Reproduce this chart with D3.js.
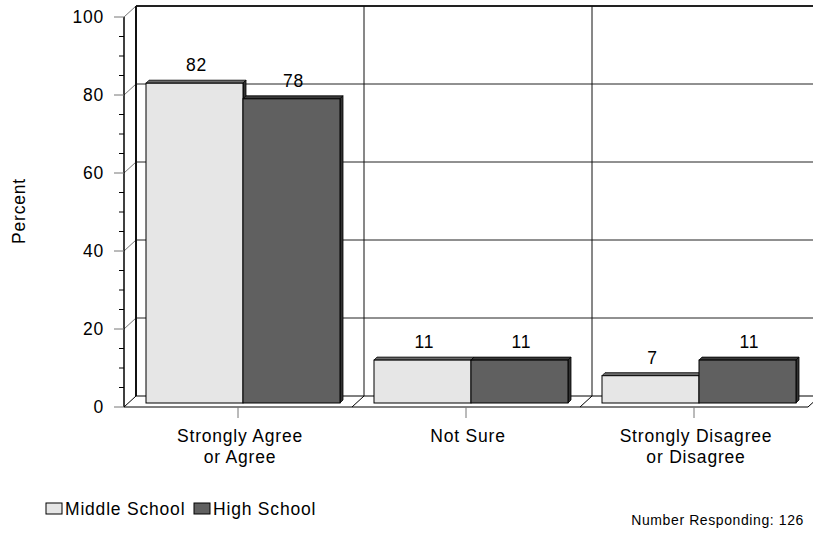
<!DOCTYPE html>
<html><head><meta charset="utf-8">
<script src="https://cdn.jsdelivr.net/npm/d3@7"></script>
<style>
html,body{margin:0;padding:0;background:#fff;}
svg{display:block;}
text{font-family:"Liberation Sans",Arial,sans-serif;fill:#000;}
</style></head>
<body>
<svg id="chart" width="813" height="533"></svg>
<script>
const categories = [["Strongly Agree","or Agree"],["Not Sure"],["Strongly Disagree","or Disagree"]];
const seriesNames = ["Middle School","High School"];
const middleSchool = [82, 11, 7];
const highSchool = [78, 11, 11];
const yTicks = [0,20,40,60,80,100];
const minorTicks = d3.range(0,101,5);
const note = "Number Responding: 126";
const yTitle = "Percent";

const colors = {"Middle School":"#e6e6e6","High School":"#606060"};
const topColors = {"Middle School":"#6a6a6a","High School":"#3a3a3a"};

const svg = d3.select("#chart");
const DX = 12, DY = -11;   // wall depth
const BX = 5, BY = -4;     // bar plane offset
const BD = 3;              // bar depth

const y = d3.scaleLinear().domain([0,100]).range([407,17]);
const catKeys = categories.map((c,i)=>i);
const x = d3.scaleBand().domain(catKeys).range([124,808]).paddingInner(0).paddingOuter(0);
const xs = d3.scaleBand().domain(seriesNames).range([17, 211]);

const grid = svg.append("g");
yTicks.filter(v=>v>0).forEach(v=>{
  grid.append("line").attr("x1",124+DX).attr("x2",820).attr("y1",y(v)+DY).attr("y2",y(v)+DY)
    .attr("stroke", v===100 ? "#222" : "#222").attr("stroke-width", v===100?2:1);
  grid.append("line").attr("x1",124).attr("y1",y(v)).attr("x2",124+DX).attr("y2",y(v)+DY)
    .attr("stroke","#777").attr("stroke-width",1);
});
grid.append("line").attr("x1",124+DX).attr("x2",124+DX).attr("y1",y(100)+DY).attr("y2",y(0)+DY)
  .attr("stroke","#111").attr("stroke-width",2);
catKeys.slice(1).forEach(k=>{
  grid.append("line").attr("x1",x(k)+DX).attr("x2",x(k)+DX).attr("y1",y(100)+DY).attr("y2",y(0)+DY)
    .attr("stroke","#111").attr("stroke-width",1);
});
const floor = svg.append("g");
floor.append("path").attr("d",
  `M${124},${y(0)} L${808},${y(0)} L${808+DX},${y(0)+DY} L${124+DX},${y(0)+DY} Z`)
  .attr("fill","#fff").attr("stroke","#000").attr("stroke-width",1);
catKeys.slice(1).forEach(k=>{
  floor.append("line").attr("x1",x(k)).attr("y1",y(0)).attr("x2",x(k)+DX).attr("y2",y(0)+DY)
    .attr("stroke","#000").attr("stroke-width",1);
});

const bars = svg.append("g");
const data = [];
catKeys.forEach(k=>{
  data.push({k, s:"Middle School", v: middleSchool[k]});
  data.push({k, s:"High School", v: highSchool[k]});
});
data.forEach(d=>{
  const x0 = x(d.k) + BX + xs(d.s);
  const w = xs.bandwidth();
  const yt = y(d.v) + BY;
  const yb = y(0) + BY;
  const g = bars.append("g");
  g.append("path").attr("d",`M${x0},${yt} L${x0+BD},${yt-BD} L${x0+w+BD},${yt-BD} L${x0+w},${yt} Z`)
    .attr("fill",topColors[d.s]).attr("stroke","#000").attr("stroke-width",0.8);
  g.append("path").attr("d",`M${x0+w},${yt} L${x0+w+BD},${yt-BD} L${x0+w+BD},${yb-BD} L${x0+w},${yb} Z`)
    .attr("fill","#333").attr("stroke","#000").attr("stroke-width",0.8);
  g.append("rect").attr("x",x0).attr("y",yt).attr("width",w).attr("height",yb-yt)
    .attr("fill",colors[d.s]).attr("stroke","#000").attr("stroke-width",1);
  svg.append("text").attr("x",x0+w/2+2).attr("y",yt-12).attr("text-anchor","middle")
    .attr("font-size","17.5px").attr("letter-spacing","0.8px").text(d.v);
});

const ax = svg.append("g");
ax.append("line").attr("x1",124).attr("x2",124).attr("y1",y(100)).attr("y2",y(0))
  .attr("stroke","#000").attr("stroke-width",1.5);
minorTicks.forEach(v=>{
  const major = yTicks.includes(v);
  ax.append("line").attr("x1",major?114:119).attr("x2",124).attr("y1",y(v)).attr("y2",y(v))
    .attr("stroke",major?"#777":"#000").attr("stroke-width",1);
});
yTicks.forEach(v=>{
  ax.append("text").attr("x",104).attr("y",y(v)+6).attr("text-anchor","end")
    .attr("font-size","17.5px").attr("letter-spacing","0.8px").text(v);
});
catKeys.forEach(k=>{
  const cx = x(k) + x.bandwidth()/2;
  ax.append("line").attr("x1",cx).attr("x2",cx).attr("y1",y(0)).attr("y2",y(0)+11)
    .attr("stroke","#777").attr("stroke-width",1);
  const t = ax.append("text").attr("x",cx+2).attr("y",442).attr("text-anchor","middle")
    .attr("font-size","17.5px").attr("letter-spacing","0.8px");
  categories[k].forEach((line,i)=>{
    t.append("tspan").attr("x",cx+2).attr("dy",i===0?0:21).text(line);
  });
});
svg.append("text").attr("transform","translate(25,211) rotate(-90)").attr("text-anchor","middle")
  .attr("font-size","17.5px").attr("letter-spacing","0.8px").text(yTitle);

const leg = svg.append("g");
const legX = [46, 194];
seriesNames.forEach((s,i)=>{
  leg.append("rect").attr("x",legX[i]).attr("y",503).attr("width",16).attr("height",11)
    .attr("fill",colors[s]).attr("stroke","#000").attr("stroke-width",1);
  leg.append("text").attr("x",legX[i]+19).attr("y",515).attr("font-size","17.5px")
    .attr("letter-spacing","0.8px").text(s);
});
svg.append("text").attr("x",804).attr("y",525).attr("text-anchor","end")
  .attr("font-size","14px").attr("letter-spacing","0.6px").text(note);
</script>
</body></html>
